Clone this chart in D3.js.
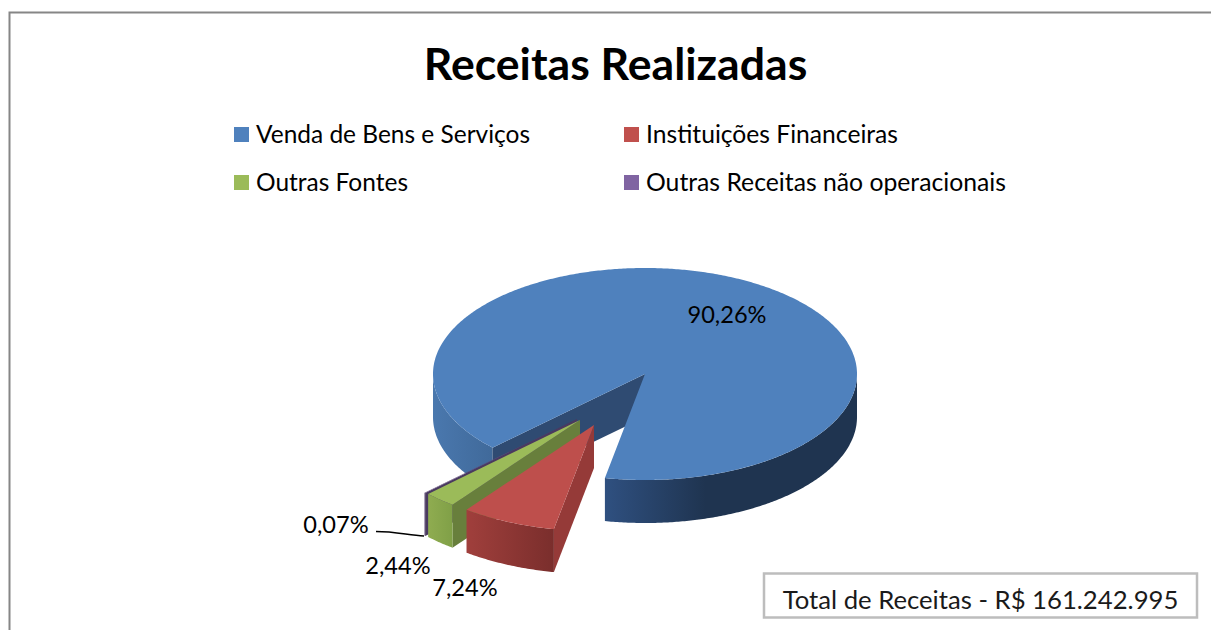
<!DOCTYPE html>
<html><head><meta charset="utf-8">
<script src="https://cdnjs.cloudflare.com/ajax/libs/d3/7.8.5/d3.min.js"></script>
<style>html,body{margin:0;padding:0;background:#fff;overflow:hidden}svg{display:block}text{font-family:Lato,"Open Sans",sans-serif;fill:#000}</style>
</head><body><svg id="c" width="1211" height="630"></svg>
<script>
const titleText = "Receitas Realizadas";
const categories = ["Venda de Bens e Serviços","Instituições Financeiras","Outras Fontes","Outras Receitas não operacionais"];
const values = [90.26,7.24,2.44,0.07];
const totalText = "Total de Receitas - R$ 161.242.995";
const topColors = ["#4f81bd","#be4f4c","#9bbb59","#604a7b"];
const legendColors = ["#4f81bd","#c0504d","#9bbb59","#8064a2"];
const faceColors = ["#2f4b72","#953a38","#687f3c","#4a3a60"];
const wallLight = ["#2f5080","#a03f3c","#8fac50","#5a4674"];
const wallDark  = ["#1f3450","#7a2e2c","#80a047","#4f3d68"];
const legendWidths = [274,252,152,360];
const explodeX = [0,-51,-65,-68];
const explodeY = [0,51,46,45];
const labelX = [727,465,398,336];
const labelY = [315,588,566,525];

const svg = d3.select("#c");
const defs = svg.append("defs");
const fmt = d3.formatLocale({decimal:",",thousands:".",grouping:[3],currency:["R$",""]}).format(".2f");
const rad = d => d*Math.PI/180;
const sx = d3.scaleLinear([-1,1],[433,857]);
const sy = d3.scaleLinear([-1,1],[268,480]);
const depth = 43;
const pie = d3.pie().sort(null).startAngle(rad(226)).endAngle(rad(226+360));
const arcs = pie(values);

// border
svg.append("path").attr("d","M9.5,640V12.5H1215").attr("fill","none").attr("stroke","#868686").attr("stroke-width",2);

svg.append("text").attr("x",615.5).attr("y",79.5).attr("text-anchor","middle").attr("font-size",44.6).attr("font-weight",700).text(titleText);

// legend
const lx = [234,624], ly = [127,175];
categories.forEach((c,i)=>{
  const g = svg.append("g").attr("transform",`translate(${lx[i%2]},${ly[i>>1]})`);
  g.append("rect").attr("width",15).attr("height",15).attr("fill",legendColors[i]);
  g.append("text").attr("x",22).attr("y",15.5).attr("font-size",24.5)
    .attr("textLength",legendWidths[i]).attr("lengthAdjust","spacingAndGlyphs").text(c);
});

const line = d3.line();
const P = (a,ox,oy,dz=0) => [sx(Math.sin(a))+ox, sy(-Math.cos(a))+oy+dz];
const arcPts = (a0,a1,ox,oy,dz=0) => {
  const n = Math.max(2,Math.ceil(Math.abs(a1-a0)/0.01));
  return d3.range(n+1).map(k=>P(a0+(a1-a0)*k/n,ox,oy,dz));
};
const grad = (id,x0,x1,stops) => {
  const g = defs.append("linearGradient").attr("id",id).attr("gradientUnits","userSpaceOnUse").attr("x1",x0).attr("x2",x1).attr("y1",0).attr("y2",0);
  stops.forEach(s=>g.append("stop").attr("offset",s[0]).attr("stop-color",s[1]));
  return `url(#${id})`;
};
const drawWall = (a0,a1,ox,oy,fill) => {
  const pts = arcPts(a0,a1,ox,oy).concat(arcPts(a1,a0,ox,oy,depth));
  svg.append("path").attr("d",line(pts)+"Z").attr("fill",fill);
};
const drawFace = (a,ox,oy,fill) => {
  const c = [sx(0)+ox, sy(0)+oy], p = P(a,ox,oy);
  svg.append("path").attr("d",line([c,p,[p[0],p[1]+depth],[c[0],c[1]+depth]])+"Z").attr("fill",fill);
};
const drawTop = (a0,a1,ox,oy,fill) => {
  const c = [sx(0)+ox, sy(0)+oy];
  svg.append("path").attr("d",line([c].concat(arcPts(a0,a1,ox,oy)))+"Z").attr("fill",fill);
};

// Blue slice: back-left wall, cut face, front-right wall, top
const b = arcs[0];
const r270 = rad(270);
drawWall(b.startAngle, r270, 0,0, grad("bl",sx(-1),sx(-0.69),[[0,"#4a78ae"],[1,"#3f6898"]]));
drawFace(b.startAngle,0,0,faceColors[0]);
const frontStart = rad(360+90), frontEnd = b.endAngle;
drawWall(frontStart, frontEnd, 0,0, grad("br",P(frontEnd,0,0)[0],sx(1),[[0,wallLight[0]],[0.4,wallDark[0]],[1,wallDark[0]]]));
drawTop(b.startAngle,b.endAngle,0,0,topColors[0]);

// Exploded slices, back to front
[3,2,1].forEach(i=>{
  const d = arcs[i], ox = explodeX[i], oy = explodeY[i];
  drawFace(d.startAngle,ox,oy,faceColors[i]);
  const x0 = P(d.startAngle,ox,oy)[0], x1 = P(d.endAngle,ox,oy)[0];
  drawWall(d.startAngle,d.endAngle,ox,oy,grad("w"+i,x1,x0,[[0,wallLight[i]],[1,wallDark[i]]]));
  drawTop(d.startAngle,d.endAngle,ox,oy,topColors[i]);
});

// leader line
svg.append("path").attr("d","M376,531.5C395,531.5 408,535 424,536").attr("fill","none").attr("stroke","#000").attr("stroke-width",1.5);

// data labels
values.forEach((v,i)=>{
  svg.append("text").attr("x",labelX[i]).attr("y",labelY[i]+8).attr("text-anchor","middle").attr("font-size",23.6).text(fmt(v)+"%");
});

// total box
svg.append("rect").attr("x",764).attr("y",573.5).attr("width",433).attr("height",44).attr("fill","#fff").attr("stroke","#bdbdbd").attr("stroke-width",2.5);
svg.append("text").attr("x",980.5).attr("y",609).attr("text-anchor","middle").attr("font-size",25.7).style("fill","#1a1a1a").text(totalText);
</script></body></html>
